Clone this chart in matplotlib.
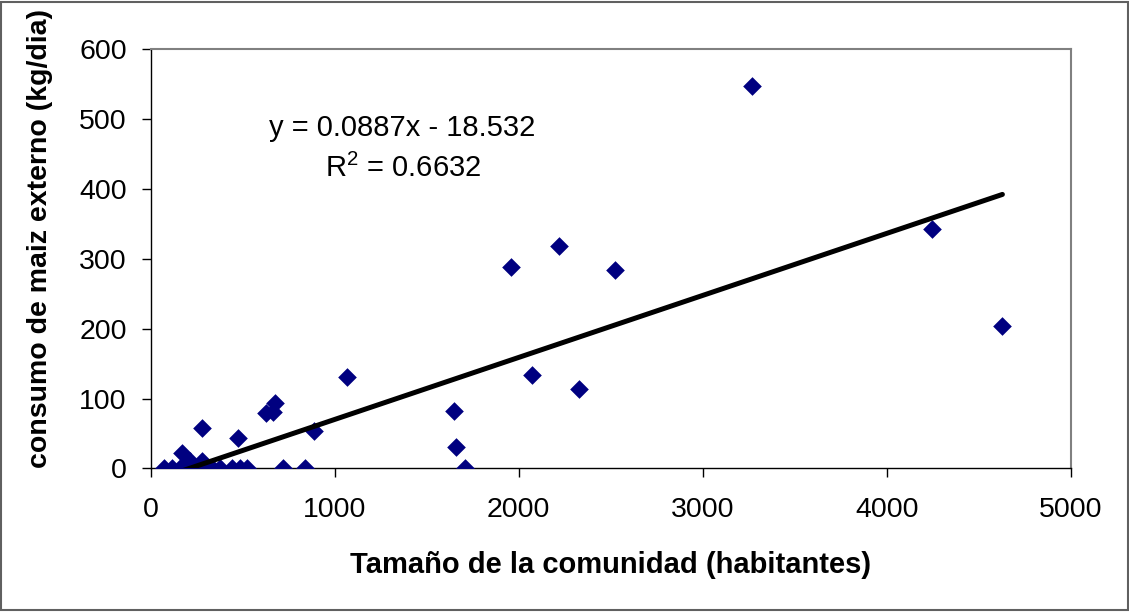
import matplotlib
matplotlib.use("Agg")
import matplotlib.pyplot as plt
from matplotlib.patches import Rectangle
import numpy as np

plt.rcParams['font.family'] = ['Liberation Sans', 'DejaVu Sans']
plt.rcParams['mathtext.fontset'] = 'custom'
plt.rcParams['mathtext.rm'] = 'Liberation Sans'
plt.rcParams['mathtext.it'] = 'Liberation Sans'
plt.rcParams['mathtext.default'] = 'regular'

# Data: community size (inhabitants) vs external maize consumption (kg/day)
size_hab = [3268, 4246, 4628, 2219, 1958, 2522, 2073, 2327, 1067, 1650, 1659, 1710,
            888, 676, 627, 666, 473, 277, 168, 214, 280,
            73, 116, 160, 203, 247, 290, 334, 377, 442, 485, 523, 720, 839]
consumo = [547, 343, 204, 318, 288, 284, 134, 114, 131, 82, 31, 0,
           54, 94, 80, 81, 43, 58, 22, 10, 10,
           0, 0, 0, 0, 0, 0, 0, 0, 0, 0, 0, 0, 0]

slope = 0.0887
intercept = -18.532
r2 = 0.6632

x_ticks = [0, 1000, 2000, 3000, 4000, 5000]
y_ticks = [0, 100, 200, 300, 400, 500, 600]

fig = plt.figure(figsize=(11.29, 6.12), dpi=100)
ax = fig.add_axes([0.1335, 0.2345, 0.815, 0.6855])

ax.scatter(size_hab, consumo, marker='D', s=9.5**2, color='#000080', zorder=3, linewidths=0)

xl = np.array([min(size_hab), max(size_hab)])
ax.plot(xl, slope * xl + intercept, color='black', lw=3.6, zorder=4, solid_capstyle='round')

ax.set_xlim(0, 5000)
ax.set_ylim(0, 600)
ax.set_xticks(x_ticks)
ax.set_yticks(y_ticks)
ax.tick_params(axis='both', direction='out', length=6.7, width=1, labelsize=20.5, colors='black')
ax.tick_params(axis='y', pad=10.5)
ax.tick_params(axis='x', pad=14)

for s in ['top', 'right']:
    ax.spines[s].set_color('#808080')
    ax.spines[s].set_linewidth(1.5)
for s in ['left', 'bottom']:
    ax.spines[s].set_color('black')
    ax.spines[s].set_linewidth(1.0)

ax.set_xlabel('Tamaño de la comunidad (habitantes)', fontsize=21, fontweight='bold')
ax.set_ylabel('consumo de maiz externo (kg/dia)', fontsize=20.5, fontweight='bold')
ax.xaxis.set_label_coords(0.500, -0.197)
ax.yaxis.set_label_coords(-0.106, 0.549)

ax.text(0.273, 0.812, 'y = 0.0887x - 18.532', transform=ax.transAxes,
        ha='center', va='center', fontsize=21)
ax.text(0.274, 0.716, 'R$^{2}$ = 0.6632', transform=ax.transAxes,
        ha='center', va='center', fontsize=21)

fig.patches.append(Rectangle((0.001, 0.003), 0.998, 0.994, transform=fig.transFigure,
                             fill=False, edgecolor='#606060', linewidth=1.5))

fig.savefig('out.png', dpi=100)
